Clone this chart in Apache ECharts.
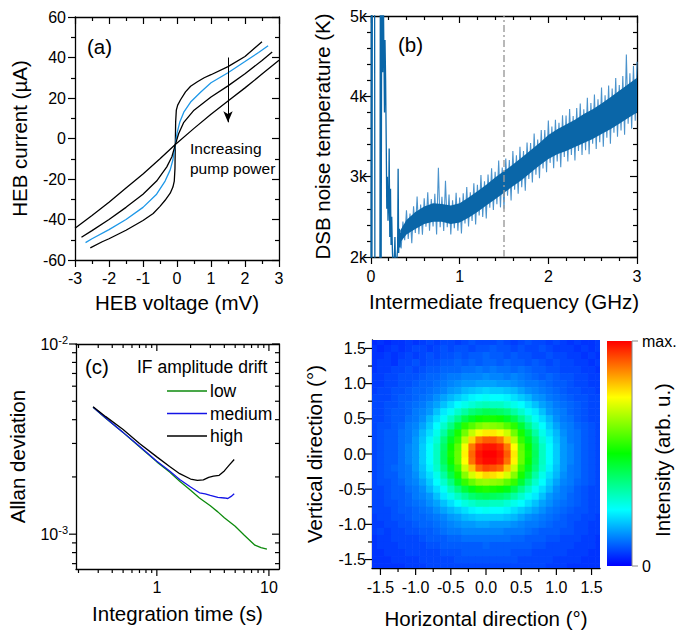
<!DOCTYPE html>
<html>
<head>
<meta charset="utf-8">
<style>
  html, body { margin: 0; padding: 0; background: #fff; }
  #chart { width: 692px; height: 631px; }
</style>
<script src="https://cdn.jsdelivr.net/npm/echarts@6.0.0/dist/echarts.min.js"></script>
</head>
<body>
<div id="chart"></div>
<script>
// ---------- (a) HEB current-voltage curves, increasing LO pump power ----------
const ivPumpLow = [[-2.55,-54],[-2.2,-51],[-2.0,-49.5],[-1.5,-45.3],[-1.0,-40.5],[-0.7,-37],[-0.5,-33.5],[-0.35,-30.5],[-0.2,-27],[-0.12,-24],[-0.08,-21],[-0.06,-15],[-0.05,-3],[-0.04,8],[-0.02,14],[0.02,16.5],[0.1,19],[0.25,23],[0.4,25.8],[0.6,28],[0.8,30],[1.0,31.5],[1.5,35.5],[2.0,40.5],[2.5,47.8]];
const ivPumpMid = [[-2.69,-51.4],[-2.5,-49.5],[-2.0,-45],[-1.5,-40],[-1.0,-34],[-0.6,-27.5],[-0.35,-21],[-0.2,-15.5],[-0.12,-10.5],[-0.05,-3],[0.0,2.5],[0.08,8],[0.2,13],[0.4,18],[0.7,23],[1.0,27.5],[1.5,32.5],[2.0,38],[2.4,42.5],[2.68,45.8]];
const ivPumpHigh = [[-2.81,-48.8],[-2.5,-45.5],[-2.0,-40],[-1.5,-34],[-1.0,-27.5],[-0.6,-21],[-0.3,-14],[-0.15,-9],[-0.05,-3],[0.05,2.5],[0.2,8],[0.5,14],[1.0,20.5],[1.5,26],[2.0,32],[2.5,38.5],[2.8,42.7]];
const ivPumpMax = [[-3.0,-44.3],[-2.5,-38],[-2.0,-31.5],[-1.5,-24.5],[-1.0,-17.5],[-0.5,-10],[-0.05,-3],[0.5,5],[1.0,12],[1.5,18.5],[2.0,25],[2.5,31.8],[3.0,38.6]];
const pumpArrow = [[1.5, 40], [1.5, 8]];

// ---------- (b) DSB receiver noise temperature vs IF ----------
// unstable low-IF part of the sweep
const noiseLowIF = [
  [0.000,1500],[0.004,6000],[0.009,1500],[0.016,6000],[0.040,6000],[0.044,1500],[0.100,1500],[0.106,6000],
  [0.114,1500],[0.122,6000],[0.132,4300],[0.138,5400],[0.146,4500],[0.152,3800],[0.158,4700],[0.165,4200],
  [0.172,3400],[0.178,2600],[0.185,3000],[0.192,2450],[0.200,2700],[0.205,3350],[0.212,2250],[0.220,2850],
  [0.226,2150],[0.234,2500],[0.242,2050],[0.250,1900],[0.262,1950],[0.270,2250],[0.276,1900],[0.290,1950],
  [0.300,2100],[0.306,3100],[0.312,2050],[0.320,2350],[0.328,2120],[0.336,2300]
];
// dense part of the sweep: solid core of the scatter ...
const coreFreq = [0.33,0.4,0.5,0.6,0.7,0.8,0.9,1.0,1.1,1.2,1.3,1.4,1.5,1.6,1.7,1.8,1.9,2.0,2.1,2.2,2.3,2.4,2.5,2.6,2.7,2.8,2.9,3.0];
const coreLow  = [2180,2280,2350,2410,2440,2440,2410,2430,2490,2560,2640,2720,2800,2880,2960,3050,3140,3220,3280,3320,3370,3420,3470,3530,3590,3660,3730,3800];
const coreHigh = [2330,2460,2560,2630,2670,2660,2640,2670,2740,2820,2900,2990,3070,3150,3240,3330,3420,3520,3590,3650,3710,3780,3840,3910,3990,4070,4150,4230];
// ... and the spiky excursions around it
const noiseSpikes = [
  [0.34,2105],[0.36,2440],[0.38,2210],[0.40,2580],[0.42,2224],[0.44,2540],[0.46,2172],[0.48,2630],
  [0.50,2300],[0.52,2754],[0.54,2284],[0.56,2652],[0.58,2278],[0.60,2730],[0.62,2376],[0.64,2806],
  [0.66,2328],[0.68,2722],[0.70,2380],[0.72,2788],[0.74,2280],[0.76,3110],[0.78,2370],[0.80,2750],
  [0.82,2324],[0.84,2950],[0.86,2372],[0.88,2778],[0.90,2280],[0.92,2706],[0.94,2358],[0.96,2798],
  [0.98,2326],[1.00,2740],[1.02,2292],[1.04,2794],[1.06,2416],[1.08,2872],[1.10,2380],[1.12,2806],
  [1.14,2448],[1.16,2918],[1.18,2406],[1.20,2900],[1.22,2516],[1.24,3022],[1.26,2498],[1.28,2944],
  [1.30,2480],[1.32,3028],[1.34,2612],[1.36,3104],[1.38,2584],[1.40,3060],[1.42,2656],[1.44,3202],
  [1.46,2618],[1.48,3114],[1.50,2600],[1.52,3226],[1.54,2762],[1.56,3208],[1.58,2704],[1.60,3320],
  [1.62,2836],[1.64,3266],[1.66,2788],[1.68,3372],[1.70,2870],[1.72,3318],[1.74,2826],[1.76,3424],
  [1.78,2972],[1.80,3420],[1.82,2928],[1.84,3536],[1.86,3024],[1.88,3462],[1.90,2980],[1.92,3580],
  [1.94,3102],[1.96,3580],[1.98,3054],[2.00,3700],[2.02,3172],[2.04,3624],[2.06,3104],[2.08,3708],
  [2.10,3190],[2.12,3672],[2.14,3118],[2.16,3764],[2.18,3244],[2.20,3760],[2.22,3190],[2.24,3842],
  [2.26,3270],[2.28,3756],[2.30,3200],[2.32,3854],[2.34,3320],[2.36,3912],[2.38,3270],[2.40,3840],
  [2.42,3330],[2.44,3982],[2.46,3280],[2.48,3918],[2.50,3410],[2.52,4024],[2.54,3344],[2.56,3962],
  [2.58,3428],[2.60,4110],[2.62,3372],[2.64,4012],[2.66,3486],[2.68,4134],[2.70,3410],[2.72,4096],
  [2.74,3548],[2.76,4228],[2.78,3496],[2.80,4140],[2.82,3574],[2.84,4252],[2.86,3522],[2.88,4520],
  [2.90,3660],[2.92,4286],[2.94,3598],[2.96,4378],[2.98,3696],[3.00,4430]
];
const ifMarker = [[1.5, 2000], [1.5, 5000]];

// ---------- (c) Allan deviation of the IF amplitude ----------
const allanLow = [[0.27,4.65e-3],[0.35,4.07e-3],[0.5,3.42e-3],[0.7,2.88e-3],[1.0,2.40e-3],[1.3,2.12e-3],[1.6,1.90e-3],[2.0,1.70e-3],[2.4,1.55e-3],[3.0,1.41e-3],[3.5,1.31e-3],[4.0,1.22e-3],[5.0,1.10e-3],[6.0,9.9e-4],[7.5,8.75e-4],[8.5,8.5e-4],[9.6,8.35e-4]];
const allanMedium = [[0.27,4.65e-3],[0.35,4.08e-3],[0.5,3.43e-3],[0.7,2.90e-3],[1.0,2.42e-3],[1.3,2.15e-3],[1.6,1.94e-3],[2.0,1.77e-3],[2.4,1.65e-3],[2.7,1.63e-3],[3.0,1.60e-3],[3.5,1.56e-3],[4.0,1.55e-3],[4.3,1.54e-3],[4.6,1.58e-3],[4.9,1.63e-3]];
const allanHigh = [[0.27,4.68e-3],[0.35,4.15e-3],[0.5,3.55e-3],[0.7,3.0e-3],[1.0,2.55e-3],[1.3,2.27e-3],[1.6,2.08e-3],[2.0,1.95e-3],[2.3,1.92e-3],[2.6,1.93e-3],[2.9,1.99e-3],[3.2,2.02e-3],[3.6,2.04e-3],[4.0,2.15e-3],[4.4,2.30e-3],[4.9,2.47e-3]];
const allanLegend = ['low', 'medium', 'high'];
const timeMinorTicks = [0.2,0.3,0.4,0.5,0.6,0.7,0.8,0.9,2,3,4,5,6,7,8,9];
const timeMajorTicks = [1, 10];
const devMinorTicks = [7e-4,8e-4,9e-4,2e-3,3e-3,4e-3,5e-3,6e-3,7e-3,8e-3,9e-3];
const devMajorTicks = [1e-3, 1e-2];

// ---------- (d) beam map, rows from +1.6 deg (top) to -1.6 deg (bottom) ----------
const beamPos = [-1.6,-1.5,-1.4,-1.3,-1.2,-1.1,-1.0,-0.9,-0.8,-0.7,-0.6,-0.5,-0.4,-0.3,-0.2,-0.1,0,0.1,0.2,0.3,0.4,0.5,0.6,0.7,0.8,0.9,1.0,1.1,1.2,1.3,1.4,1.5,1.6];
const beamRows = [
  [4,5,4,5,5,6,5,6,7,6,7,7,6,7,8,7,7,7,8,7,6,7,8,7,7,6,7,6,5,6,5,5,6],
  [5,4,5,6,5,6,7,7,6,7,8,7,8,8,7,8,8,9,8,8,7,8,7,7,8,7,6,6,6,5,6,5,6],
  [5,5,6,5,6,7,6,7,8,7,8,8,9,8,9,9,10,9,9,8,9,8,8,7,7,8,7,7,6,6,5,6,5],
  [5,6,6,5,7,7,8,7,8,8,9,9,10,9,10,9,10,10,9,10,9,9,8,9,8,7,8,7,7,6,6,5,6],
  [5,6,6,7,7,8,7,8,9,9,10,10,10,11,11,12,11,12,11,11,10,11,10,9,9,8,8,7,7,7,6,6,5],
  [6,6,7,7,8,8,8,9,10,10,11,12,12,13,13,13,14,13,13,12,13,12,11,10,9,10,9,8,8,7,7,6,6],
  [6,6,7,7,8,8,9,10,10,11,12,13,14,15,15,16,16,16,15,15,14,13,12,12,11,10,9,9,8,7,7,6,6],
  [6,7,7,8,8,9,10,10,11,12,13,15,16,18,19,20,21,20,20,19,18,16,14,13,12,11,10,9,8,8,7,7,6],
  [7,7,7,8,9,9,10,11,12,14,16,18,20,22,24,25,26,25,25,24,22,20,18,15,14,12,11,10,9,8,8,7,7],
  [7,7,8,8,9,10,11,12,14,16,19,22,25,27,29,31,32,31,31,29,27,25,22,19,16,14,12,11,10,9,8,7,7],
  [7,7,8,9,9,10,12,13,15,19,23,26,30,34,38,40,42,41,40,38,34,30,26,23,19,15,13,12,10,9,8,7,7],
  [7,7,8,9,9,11,12,14,18,22,26,31,37,43,47,51,52,52,51,47,43,37,31,26,22,18,14,12,11,9,8,7,7],
  [7,8,8,9,10,12,13,16,20,25,30,37,45,54,58,62,64,63,62,58,54,45,37,30,25,20,16,13,12,10,9,8,7],
  [7,8,9,9,11,12,14,18,22,27,34,43,52,61,69,74,77,77,74,70,61,52,43,34,27,22,18,14,12,11,9,8,7],
  [7,8,9,9,11,12,15,19,24,29,38,47,55,68,79,88,91,91,88,80,68,55,47,38,29,24,19,15,12,11,9,8,7],
  [7,8,9,9,11,13,15,20,25,31,40,51,59,74,88,96,98,98,96,88,75,59,51,40,31,25,20,15,13,11,9,8,7],
  [7,8,9,9,11,13,15,20,25,31,41,52,60,76,90,98,100,100,98,91,77,60,52,41,31,25,20,15,13,11,9,8,7],
  [7,8,9,9,11,13,15,20,25,31,41,51,60,75,89,97,99,99,97,89,76,60,51,40,31,25,20,15,13,11,9,8,7],
  [7,8,9,10,11,12,15,19,24,30,38,47,56,70,81,90,93,92,90,81,70,56,47,38,30,24,19,15,12,11,9,8,7],
  [7,8,9,9,11,12,14,18,22,27,34,43,52,63,71,76,79,78,76,71,63,52,43,34,27,22,18,14,12,11,9,8,7],
  [7,8,8,9,10,12,13,16,20,25,30,37,46,55,60,64,65,64,63,59,55,45,37,30,25,20,16,13,12,10,9,8,7],
  [7,7,8,9,9,11,12,14,18,22,26,32,38,44,48,52,53,52,51,48,43,37,31,26,22,18,14,12,11,9,8,7,7],
  [7,7,8,9,9,10,12,13,15,19,23,27,31,35,39,41,42,41,40,38,34,30,26,23,19,15,13,12,10,9,8,7,7],
  [7,7,8,8,9,10,11,12,14,16,19,22,25,28,30,32,32,31,31,29,27,25,22,19,16,14,12,11,10,9,8,7,7],
  [7,7,7,8,9,9,10,11,12,14,16,18,20,22,24,25,26,25,25,24,22,20,18,16,14,12,11,10,9,8,8,7,7],
  [6,7,7,8,8,9,10,10,11,12,13,15,16,18,19,20,20,20,20,19,18,16,14,13,12,11,10,9,8,8,7,7,6],
  [6,6,7,7,8,8,9,10,10,11,12,13,14,15,15,16,16,15,15,15,14,13,12,12,11,10,9,9,8,7,7,6,6],
  [6,7,6,7,7,8,8,9,9,10,11,12,12,13,13,13,13,13,13,12,12,12,11,10,9,9,9,8,8,7,7,6,6],
  [5,6,6,7,7,7,7,8,9,9,9,10,10,11,11,11,11,11,11,11,10,10,9,9,9,8,8,7,7,7,6,6,5],
  [5,6,6,6,7,7,7,7,8,8,9,9,9,9,9,9,10,9,9,9,9,9,9,8,8,7,7,7,7,6,6,6,5],
  [5,5,6,6,6,7,7,7,7,7,8,8,8,9,9,9,9,9,9,9,8,8,8,7,7,7,7,7,6,6,6,5,5],
  [5,5,5,6,6,6,6,7,7,7,7,7,8,8,8,8,8,8,8,8,8,7,7,7,7,7,6,6,6,6,5,5,5],
  [5,5,5,5,5,6,6,6,7,7,7,7,7,7,7,7,7,7,7,7,7,7,7,7,7,6,6,6,5,5,5,5,5]
];
const beamMajorTicks = [-1.5,-1.0,-0.5,0,0.5,1.0,1.5];
const beamMinorTicks = [-1.25,-0.75,-0.25,0.25,0.75,1.25];
const beamColors = ['#0000ff', '#00ffff', '#00ff00', '#ffff00', '#ff0000'];

// ---------- drawing ----------
const FONT = "'Liberation Sans', Arial, Helvetica, sans-serif";
const TICK_FONT = 16;
const TITLE_FONT = 20.5;
const TRACE_BLUE = '#0a66a8';

const beamData = [];
beamRows.forEach((row, r) => {
  const y = beamPos[beamPos.length - 1 - r];
  row.forEach((v, c) => beamData.push([beamPos[c], y, v]));
});
const BEAM_STEP = 0.1;

function axis(cfg) {
  return {
    type: cfg.type || 'value',
    logBase: 10,
    gridIndex: cfg.grid,
    position: cfg.pos,
    min: cfg.min,
    max: cfg.max,
    interval: cfg.interval,
    splitNumber: cfg.splitNumber,
    name: cfg.name || '',
    nameLocation: 'middle',
    nameGap: cfg.nameGap || 0,
    nameTextStyle: { fontFamily: FONT, fontSize: TITLE_FONT, color: '#000' },
    axisLine: { show: true, onZero: false, lineStyle: { color: '#000', width: 1.3 } },
    axisTick: { show: cfg.ticks !== false, inside: !!cfg.inside, length: 7, lineStyle: { color: '#000', width: 1.2 } },
    minorTick: { show: !!cfg.minor, splitNumber: cfg.minor || 5, length: 4, lineStyle: { color: '#000', width: 1.2 } },
    splitLine: { show: false },
    minorSplitLine: { show: false },
    axisLabel: {
      show: !!cfg.labels, margin: cfg.margin || 8, hideOverlap: false,
      fontFamily: FONT, fontSize: TICK_FONT, color: '#000',
      formatter: cfg.formatter, rich: cfg.rich
    },
    silent: true
  };
}

const isPow10 = v => Math.abs(Math.log10(v) - Math.round(Math.log10(v))) < 1e-6;
const onHalf = v => Math.abs(v * 2 - Math.round(v * 2)) < 1e-6;

// Extents of the log panel and of the beam map (used by the tick-mark series)
const T_MIN = 0.19, T_MAX = 12.3, D_MIN = 6.56e-4, D_MAX = 1e-2;
const B_MIN = -1.62, B_MAX = 1.62;

// Tick marks drawn through the axes' own scales (log panel and beam map)
function tickSeries(xi, yi, items, xLo, xHi, yLo, yHi, mirror) {
  return {
    type: 'custom', xAxisIndex: xi, yAxisIndex: yi, silent: true, clip: false, z: 5,
    data: items,
    renderItem: (params, api) => {
      const v = api.value(0), w = api.value(1), len = api.value(2), o = api.value(3);
      const st = { stroke: '#000', lineWidth: 1.2 };
      const kids = [];
      if (o === 0) {
        const pb = api.coord([v, yLo]);
        kids.push({ type: 'line', shape: { x1: pb[0], y1: pb[1], x2: pb[0], y2: pb[1] + len }, style: st });
        if (mirror) {
          const pt = api.coord([v, yHi]);
          kids.push({ type: 'line', shape: { x1: pt[0], y1: pt[1], x2: pt[0], y2: pt[1] + len }, style: st });
        }
      } else {
        const pl = api.coord([xLo, w]);
        kids.push({ type: 'line', shape: { x1: pl[0], y1: pl[1], x2: pl[0] - len, y2: pl[1] }, style: st });
        if (mirror) {
          const pr = api.coord([xHi, w]);
          kids.push({ type: 'line', shape: { x1: pr[0], y1: pr[1], x2: pr[0] - len, y2: pr[1] }, style: st });
        }
      }
      return { type: 'group', children: kids };
    }
  };
}

const logTicks = []
  .concat(timeMinorTicks.map(v => [v, D_MIN, 4, 0]))
  .concat(timeMajorTicks.map(v => [v, D_MIN, 7, 0]))
  .concat(devMinorTicks.map(v => [T_MIN, v, 4, 1]))
  .concat(devMajorTicks.map(v => [T_MIN, v, 7, 1]));
const beamTicks = []
  .concat(beamMinorTicks.map(v => [v, B_MIN, 4, 0]))
  .concat(beamMajorTicks.map(v => [v, B_MIN, 7, 0]))
  .concat(beamMinorTicks.map(v => [B_MIN, v, 4, 1]))
  .concat(beamMajorTicks.map(v => [B_MIN, v, 7, 1]));

const line = (xi, yi, data, color, width, z) => ({
  type: 'line', xAxisIndex: xi, yAxisIndex: yi, data, symbol: 'none', showSymbol: false,
  smooth: false, silent: true, z: z || 2, lineStyle: { color, width: width || 1.3 }
});

const txt = (x, y, text, size, opts) => Object.assign({
  type: 'text', x, y, silent: true,
  style: Object.assign({ text, font: size + 'px ' + FONT, fill: '#000', textAlign: 'left', textVerticalAlign: 'middle' }, (opts && opts.style) || {})
}, (opts && opts.el) || {});

const option = {
  animation: false,
  backgroundColor: '#fff',
  grid: [
    { left: 75, top: 17, width: 204, height: 243, outerBoundsMode: 'none' },
    { left: 371, top: 16, width: 266, height: 241, outerBoundsMode: 'none' },
    { left: 76, top: 344, width: 203, height: 225, outerBoundsMode: 'none' },
    { left: 372, top: 340, width: 228, height: 228, outerBoundsMode: 'none' }
  ],
  xAxis: [
    axis({ grid: 0, pos: 'bottom', min: -3, max: 3, interval: 1, minor: 2, labels: true, margin: 10, name: 'HEB voltage (mV)', nameGap: 32 }),
    axis({ grid: 0, pos: 'top', min: -3, max: 3, interval: 1, minor: 2, inside: true }),
    axis({ grid: 1, pos: 'bottom', min: 0, max: 3, interval: 1, minor: 5, labels: true, margin: 11, name: 'Intermediate frequency (GHz)', nameGap: 34 }),
    axis({ grid: 1, pos: 'top', min: 0, max: 3, interval: 1, minor: 5, inside: true }),
    axis({ grid: 2, pos: 'bottom', type: 'log', min: T_MIN, max: T_MAX, ticks: false, labels: true, margin: 10,
           formatter: v => isPow10(v) ? String(Math.round(v)) : '', name: 'Integration time (s)', nameGap: 34 }),
    axis({ grid: 2, pos: 'top', type: 'log', min: T_MIN, max: T_MAX, ticks: false }),
    axis({ grid: 3, pos: 'bottom', min: B_MIN, max: B_MAX, splitNumber: 6, ticks: false, labels: true, margin: 11,
           formatter: v => onHalf(v) ? v.toFixed(1) : '', name: 'Horizontal direction (°)', nameGap: 40 })
  ],
  yAxis: [
    axis({ grid: 0, pos: 'left', min: -60, max: 60, interval: 20, minor: 2, labels: true, margin: 9, name: 'HEB current (µA)', nameGap: 45 }),
    axis({ grid: 0, pos: 'right', min: -60, max: 60, interval: 20, minor: 2, inside: true }),
    axis({ grid: 1, pos: 'left', min: 2000, max: 5000, interval: 1000, minor: 5, labels: true, margin: 4,
           formatter: v => (v / 1000) + 'k', name: 'DSB noise temperature (K)', nameGap: 38 }),
    axis({ grid: 1, pos: 'right', min: 2000, max: 5000, interval: 1000, minor: 5, inside: true }),
    axis({ grid: 2, pos: 'left', type: 'log', min: D_MIN, max: D_MAX, ticks: false, labels: true, margin: 8,
           formatter: v => isPow10(v) ? '{b|10}{s|' + Math.round(Math.log10(v)) + '}' : '',
           rich: { b: { fontFamily: FONT, fontSize: TICK_FONT, color: '#000' },
                   s: { fontFamily: FONT, fontSize: 11, color: '#000', verticalAlign: 'top', padding: [0, 0, 8, 0] } },
           name: 'Allan deviation', nameGap: 48 }),
    axis({ grid: 2, pos: 'right', type: 'log', min: D_MIN, max: D_MAX, ticks: false }),
    axis({ grid: 3, pos: 'left', min: B_MIN, max: B_MAX, splitNumber: 6, ticks: false, labels: true, margin: 6,
           formatter: v => onHalf(v) ? v.toFixed(1) : '', name: 'Vertical direction (°)', nameGap: 47 })
  ],
  visualMap: {
    type: 'continuous', show: false, seriesIndex: 10, dimension: 2, min: 0, max: 100,
    inRange: { color: beamColors }
  },
  series: [
    // 0-4: panel (a)
    line(0, 0, ivPumpLow, '#000'),
    line(0, 0, ivPumpMid, '#1e98e8'),
    line(0, 0, ivPumpHigh, '#000'),
    line(0, 0, ivPumpMax, '#000'),
    {
      type: 'line', xAxisIndex: 0, yAxisIndex: 0, data: [], silent: true,
      markLine: {
        silent: true, symbol: ['none', 'arrow'], symbolSize: [7, 11], label: { show: false },
        lineStyle: { color: '#000', width: 1, type: 'solid' },
        data: [[{ coord: pumpArrow[0] }, { coord: pumpArrow[1] }]]
      }
    },
    // 5-8: panel (b)
    line(2, 2, noiseSpikes, '#4b93cc', 1.1, 2),
    {
      type: 'custom', xAxisIndex: 2, yAxisIndex: 2, clip: true, silent: true, z: 3,
      data: [[coreFreq[0], coreLow[0]]],
      renderItem: (params, api) => {
        const pts = [];
        coreFreq.forEach((f, i) => pts.push(api.coord([f, coreHigh[i]])));
        for (let i = coreFreq.length - 1; i >= 0; i--) pts.push(api.coord([coreFreq[i], coreLow[i]]));
        return { type: 'polygon', shape: { points: pts }, style: { fill: TRACE_BLUE } };
      }
    },
    line(2, 2, noiseLowIF, TRACE_BLUE, 1.3, 3),
    {
      type: 'line', xAxisIndex: 2, yAxisIndex: 2, data: ifMarker, symbol: 'none', showSymbol: false,
      silent: true, z: 4, lineStyle: { color: '#9a9a9a', width: 1.4, type: [7, 3, 2, 3] }
    },
    // 9: log-panel ticks
    tickSeries(4, 4, logTicks, T_MIN, T_MAX, D_MIN, D_MAX, true),
    // 10: beam map
    {
      type: 'custom', xAxisIndex: 6, yAxisIndex: 6, data: beamData, clip: true, silent: true,
      encode: { x: 0, y: 1 },
      renderItem: (params, api) => {
        const x = api.value(0), y = api.value(1);
        const p0 = api.coord([x - BEAM_STEP / 2, y + BEAM_STEP / 2]);
        const p1 = api.coord([x + BEAM_STEP / 2, y - BEAM_STEP / 2]);
        return { type: 'rect', shape: { x: p0[0], y: p0[1], width: p1[0] - p0[0] + 0.6, height: p1[1] - p0[1] + 0.6 },
                 style: { fill: api.visual('color') } };
      }
    },
    // 11: beam-map ticks
    tickSeries(6, 6, beamTicks, B_MIN, B_MAX, B_MIN, B_MAX, false),
    // 12-14: panel (c)
    line(4, 4, allanLow, '#0c8a0c'),
    line(4, 4, allanMedium, '#1414e6'),
    line(4, 4, allanHigh, '#000')
  ],
  graphic: [
    txt(87, 46, '(a)', TITLE_FONT),
    txt(190, 148, 'Increasing', 15.5),
    txt(190, 168, 'pump power', 15.5),
    txt(398, 44, '(b)', TITLE_FONT),
    txt(85, 366, '(c)', TITLE_FONT),
    txt(137, 367, 'IF amplitude drift', 17.5),
    { type: 'line', silent: true, shape: { x1: 167, y1: 391, x2: 207, y2: 391 }, style: { stroke: '#0c8a0c', lineWidth: 1.3 } },
    { type: 'line', silent: true, shape: { x1: 167, y1: 413.5, x2: 207, y2: 413.5 }, style: { stroke: '#1414e6', lineWidth: 1.3 } },
    { type: 'line', silent: true, shape: { x1: 167, y1: 436, x2: 207, y2: 436 }, style: { stroke: '#000', lineWidth: 1.3 } },
    txt(210, 391, allanLegend[0], 17.5),
    txt(210, 413.5, allanLegend[1], 17.5),
    txt(210, 436, allanLegend[2], 17.5),
    txt(392, 367, '(d)', TITLE_FONT, { style: { fill: '#fff' } }),
    // colour scale of the beam map
    {
      type: 'rect', silent: true, shape: { x: 607, y: 341, width: 25, height: 225 },
      style: { fill: new echarts.graphic.LinearGradient(0, 1, 0, 0,
        beamColors.map((c, i) => ({ offset: i / (beamColors.length - 1), color: c }))) }
    },
    { type: 'line', silent: true, shape: { x1: 632, y1: 341, x2: 632, y2: 566 }, style: { stroke: '#888', lineWidth: 1 } },
    { type: 'line', silent: true, shape: { x1: 632, y1: 341, x2: 638, y2: 341 }, style: { stroke: '#888', lineWidth: 1 } },
    { type: 'line', silent: true, shape: { x1: 632, y1: 566, x2: 638, y2: 566 }, style: { stroke: '#888', lineWidth: 1 } },
    txt(642, 341, 'max.', TICK_FONT),
    txt(642, 566, '0', TICK_FONT),
    txt(662, 460, 'Intensity (arb. u.)', TITLE_FONT, { el: { rotation: Math.PI / 2 }, style: { textAlign: 'center' } })
  ]
};

const chart = echarts.init(document.getElementById('chart'), null, { renderer: 'svg', width: 692, height: 631 });
chart.setOption(option);
</script>
</body>
</html>
